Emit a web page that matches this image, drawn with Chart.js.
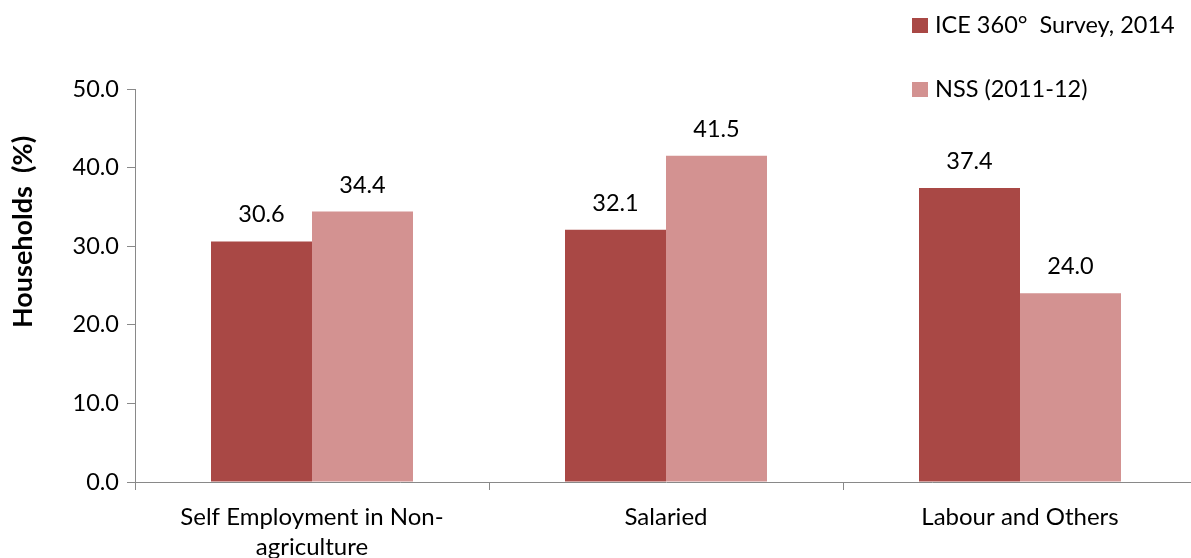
<!DOCTYPE html>
<html>
<head>
<meta charset="utf-8">
<script src="https://cdn.jsdelivr.net/npm/chart.js@4/dist/chart.umd.min.js"></script>
<style>
  html, body { margin: 0; padding: 0; background: #fff; overflow: hidden; }
  canvas { display: block; }
</style>
</head>
<body>
<canvas id="chart" width="1197" height="558"></canvas>
<script>
// Household occupation shares by survey
const categories = [['Self Employment in Non-', 'agriculture'], 'Salaried', 'Labour and Others'];
const iceSurvey = [30.6, 32.1, 37.4];
const nssSurvey = [34.4, 41.5, 24.0];
const seriesNames = ['ICE 360\u00B0  Survey, 2014', 'NSS (2011-12)'];
const yTicks = [0, 10, 20, 30, 40, 50];

const DARK = '#A94845';
const LIGHT = '#D39291';
const AXIS = '#898989';
const FONT = 'Lato, "Open Sans", sans-serif';

// Value labels above each bar
const barLabels = {
  id: 'barLabels',
  afterDatasetsDraw(chart) {
    const ctx = chart.ctx;
    ctx.save();
    ctx.fillStyle = '#000';
    ctx.font = '23.5px ' + FONT;
    ctx.textAlign = 'center';
    ctx.textBaseline = 'alphabetic';
    chart.data.datasets.forEach((ds, i) => {
      chart.getDatasetMeta(i).data.forEach((bar, j) => {
        ctx.fillText(ds.data[j].toFixed(1), bar.x, bar.y - 19);
      });
    });
    ctx.restore();
  }
};

// Stacked legend in the top right corner, plus the y axis title
const extras = {
  id: 'extras',
  afterDraw(chart) {
    const ctx = chart.ctx;
    ctx.save();
    ctx.font = '23.5px ' + FONT;
    ctx.textBaseline = 'alphabetic';
    ctx.textAlign = 'left';
    chart.data.datasets.forEach((ds, i) => {
      const bottom = 33 + i * 64;
      ctx.fillStyle = ds.backgroundColor;
      ctx.fillRect(912, bottom - 15, 16, 15);
      ctx.fillStyle = '#000';
      ctx.fillText(ds.label, 935, bottom);
    });
    ctx.translate(23, 232);
    ctx.rotate(-Math.PI / 2);
    ctx.textAlign = 'center';
    ctx.textBaseline = 'middle';
    ctx.font = 'bold 27px ' + FONT;
    ctx.fillText('Households  (%)', 0, 0);
    ctx.restore();
  }
};

new Chart(document.getElementById('chart'), {
  type: 'bar',
  data: {
    labels: categories,
    datasets: [
      { label: seriesNames[0], data: iceSurvey, backgroundColor: DARK },
      { label: seriesNames[1], data: nssSurvey, backgroundColor: LIGHT }
    ]
  },
  options: {
    responsive: false,
    maintainAspectRatio: false,
    animation: false,
    devicePixelRatio: 1,
    layout: { padding: { top: 89, left: 0, right: 0, bottom: 0 } },
    datasets: { bar: { categoryPercentage: 0.5706, barPercentage: 1.0 } },
    plugins: { legend: { display: false }, tooltip: { enabled: false } },
    scales: {
      x: {
        offset: true,
        grid: { offset: true, drawOnChartArea: false, drawTicks: true, tickLength: 8, color: AXIS },
        border: { color: AXIS, width: 1 },
        ticks: {
          color: '#000',
          font: { family: FONT, size: 24, lineHeight: 1.25 },
          padding: 12,
          maxRotation: 0,
          autoSkip: false
        },
        afterFit(scale) { scale.height = 76; }
      },
      y: {
        min: 0,
        max: 50,
        afterBuildTicks(scale) { scale.ticks = yTicks.map(v => ({ value: v })); },
        grid: { drawOnChartArea: false, drawTicks: true, tickLength: 8, color: AXIS },
        border: { color: AXIS, width: 1 },
        ticks: {
          color: '#000',
          font: { family: FONT, size: 23.5 },
          padding: 8,
          callback: v => v.toFixed(1)
        },
        afterFit(scale) { scale.width = 135; }
      }
    }
  },
  plugins: [barLabels, extras]
});
</script>
</body>
</html>
